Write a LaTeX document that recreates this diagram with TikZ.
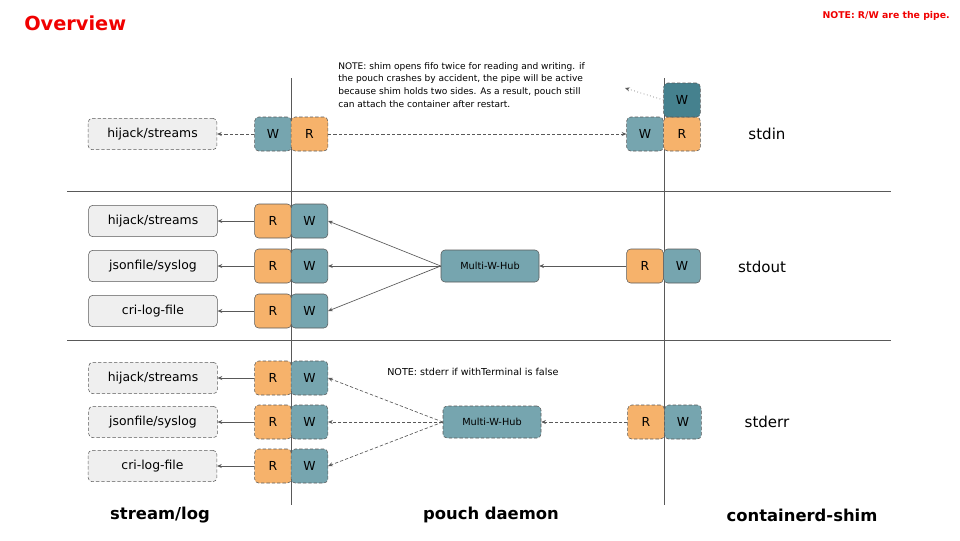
\documentclass[tikz,border=0pt]{standalone}
\usepackage{fontspec}
\setmainfont{DejaVu Sans}
\usepackage{xcolor}
\usetikzlibrary{arrows.meta}
\definecolor{pipeR}{RGB}{246,178,107}
\definecolor{pipeW}{RGB}{118,165,175}
\definecolor{pipeWdark}{RGB}{69,129,142}
\definecolor{logfill}{RGB}{239,239,239}
\definecolor{edge}{RGB}{89,89,89}
\definecolor{notered}{RGB}{240,0,0}

\tikzset{
  pipe/.style={draw=edge, rounded corners=3pt, minimum width=27.5pt, minimum height=25.5pt, inner sep=0pt, font=\fontsize{9.3}{11}\selectfont},
  rend/.style={pipe, fill=pipeR},
  wend/.style={pipe, fill=pipeW},
  logbox/.style={draw=edge, fill=logfill, rounded corners=3pt, minimum width=96.5pt, minimum height=23.5pt, inner sep=0pt, font=\fontsize{9.3}{11}\selectfont},
  hubbox/.style={draw=edge, fill=pipeW, rounded corners=3pt, minimum width=73.5pt, minimum height=24pt, inner sep=0pt, font=\fontsize{7.3}{8}\selectfont},
  dsh/.style={dash pattern={on 2.5pt off 1.5pt}},
  flow/.style={draw=edge, line width=0.5pt, -{Stealth[length=3.5pt,width=3pt]}},
  rule/.style={draw=edge, line width=0.6pt},
  rowlabel/.style={font=\fontsize{11.3}{13}\selectfont},
  collabel/.style={font=\bfseries\fontsize{12.3}{14}\selectfont}
}

\begin{document}
\begin{tikzpicture}[x=0.75pt,y=0.75pt,yscale=-1,xscale=1]
\useasboundingbox (0,0) rectangle (960,540);

%Lines
\draw [rule] (291,78) -- (291,505) ;
\draw [rule] (664,78) -- (664,505) ;
\draw [rule] (67,191) -- (891,191) ;
\draw [rule] (67,340) -- (891,340) ;

% Text Node
\node (title) [anchor=west, inner sep=0pt, text=notered, font=\bfseries\fontsize{14.5}{16}\selectfont] at (24,23) {Overview};
% Text Node
\node (legend) [anchor=east, inner sep=0pt, text=notered, font=\bfseries\fontsize{7}{8}\selectfont] at (950,16) {NOTE: R/W are the pipe.};

%stdin
\node (hijIn) [logbox, dsh] at (152.5,134) {hijack/streams};
\node (wIn) [wend, dsh] at (273,134) {W};
\node (rIn) [rend, dsh] at (309.5,134) {R};
\node (shWIn) [wend, dsh] at (645,134) {W};
\node (shRIn) [rend, dsh] at (682,134) {R};
\node (shWTop) [pipe, dsh, fill=pipeWdark] at (682,100) {W};
\coordinate (noteTip) at (625,88);
\draw [flow, dsh] (wIn) -- (hijIn) ;
\draw [flow, dsh] (rIn) -- (shWIn) ;
\draw [flow, dotted] (shWTop.west) -- (noteTip) ;
% Text Node
\node (fifoNote) [anchor=north west, inner sep=0pt, align=left, font=\fontsize{6.8}{9.6}\selectfont] at (338,62) {NOTE: shim opens fifo twice for reading and writing. if\\the pouch crashes by accident, the pipe will be active\\because shim holds two sides. As a result, pouch still\\can attach the container after restart.};
\node (stdinLbl) [rowlabel] at (767,134) {stdin};

%stdout
\node (hijOut) [logbox] at (153,221) {hijack/streams};
\node (jsonOut) [logbox] at (153,266) {jsonfile/syslog};
\node (criOut) [logbox] at (153,311) {cri-log-file};
\node (rOutA) [rend] at (273,221) {R};
\node (wOutA) [wend] at (309.5,221) {W};
\node (rOutB) [rend] at (273,266) {R};
\node (wOutB) [wend] at (309.5,266) {W};
\node (rOutC) [rend] at (273,311) {R};
\node (wOutC) [wend] at (309.5,311) {W};
\node (hubOut) [hubbox] at (490,266) {Multi-W-Hub};
\node (shROut) [rend] at (645,266) {R};
\node (shWOut) [wend] at (682,266) {W};
\draw [flow] (rOutA) -- (hijOut) ;
\draw [flow] (rOutB) -- (jsonOut) ;
\draw [flow] (rOutC) -- (criOut) ;
\draw [flow] (hubOut.west) -- (wOutA.east) ;
\draw [flow] (hubOut.west) -- (wOutB.east) ;
\draw [flow] (hubOut.west) -- (wOutC.east) ;
\draw [flow] (shROut) -- (hubOut) ;
\node (stdoutLbl) [rowlabel] at (762,267) {stdout};

%stderr
\node (hijErr) [logbox, dsh] at (153,378) {hijack/streams};
\node (jsonErr) [logbox, dsh] at (153,422) {jsonfile/syslog};
\node (criErr) [logbox, dsh] at (152.5,466) {cri-log-file};
\node (rErrA) [rend, dsh] at (273,378) {R};
\node (wErrA) [wend, dsh] at (309.5,378) {W};
\node (rErrB) [rend, dsh] at (273,422) {R};
\node (wErrB) [wend, dsh] at (309.5,422) {W};
\node (rErrC) [rend, dsh] at (273,466) {R};
\node (wErrC) [wend, dsh] at (309.5,466) {W};
\node (hubErr) [hubbox, dsh] at (492,422) {Multi-W-Hub};
\node (shRErr) [rend, dsh] at (646,422) {R};
\node (shWErr) [wend, dsh] at (683,422) {W};
\draw [flow] (rErrA) -- (hijErr) ;
\draw [flow] (rErrB) -- (jsonErr) ;
\draw [flow] (rErrC) -- (criErr) ;
\draw [flow, dsh] (hubErr.west) -- (wErrA.east) ;
\draw [flow, dsh] (hubErr.west) -- (wErrB.east) ;
\draw [flow, dsh] (hubErr.west) -- (wErrC.east) ;
\draw [flow, dsh] (shRErr) -- (hubErr) ;
% Text Node
\node (errNote) [anchor=west, inner sep=0pt, font=\fontsize{7.2}{9}\selectfont] at (387,372) {NOTE: stderr if withTerminal is false};
\node (stderrLbl) [rowlabel] at (767,422) {stderr};

%columns
\node (colLog) [collabel] at (160,515) {stream/log};
\node (colDaemon) [collabel] at (491,515) {pouch daemon};
\node (colShim) [collabel] at (802,515) {containerd-shim};

\end{tikzpicture}
\end{document}
